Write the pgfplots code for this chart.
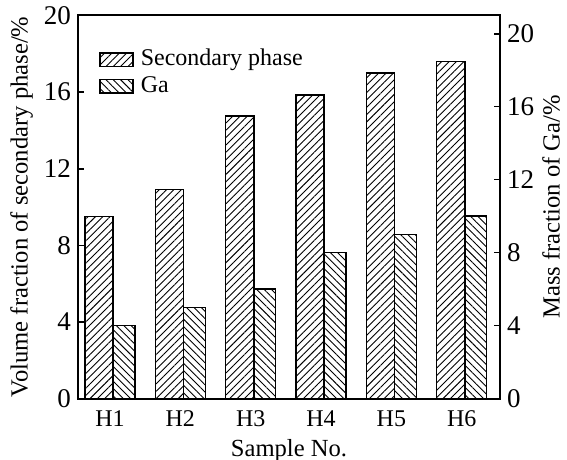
\documentclass[border=0pt]{standalone}
\usepackage{pgfplots}
\pgfplotsset{compat=1.18}
\usepackage{fontspec}
\setmainfont{Liberation Serif}
\usetikzlibrary{patterns.meta}

\tikzset{
  secfill/.style={pattern={Lines[angle=45,distance=2.6pt,line width=0.45pt]}},
  gafill/.style={pattern={Lines[angle=-45,distance=2.6pt,line width=0.45pt]}},
}

\pgfplotsset{
  common/.style={
    width=211pt, height=191.5pt, scale only axis,
    xmin=-0.5, xmax=5.5, ymin=0,
    ybar,
    axis line style={line width=1pt},
    major tick length=3pt,
    tick align=inside,
    ytick={0,4,...,20},
    ytick style={line width=0.8pt, black},
    /pgf/number format/assume math mode=true,
    xticklabel style={font=\fontsize{12}{14}\selectfont},
    yticklabel style={font=\fontsize{13.5}{16}\selectfont},
    label style={font=\fontsize{12.3}{14}\selectfont, inner sep=0pt},
  },
  barlegend/.style={
    legend image code/.code={
      \draw[##1, line width=0.7pt] (0pt,-3.3pt) rectangle (16.5pt,3.3pt);
    }
  },
}

\begin{document}
\begin{tikzpicture}
% volume fraction of the secondary phase (left scale)
\begin{axis}[common,
  ymax=20,
  ytick pos=left,
  xtick pos=bottom,
  xtick={-0.045,0.955,1.955,2.955,3.955,4.955},
  xticklabels={H1,H2,H3,H4,H5,H6},
  x tick style={draw=none},
  xticklabel style={yshift=-2.7pt},
  xlabel={Sample No.},
  xlabel style={at={(axis description cs:0.5,-0.106)}, anchor=north},
  ylabel={Volume fraction of secondary phase/\%},
  ylabel style={at={(axis description cs:-0.106,0.5)}, anchor=south},
  barlegend,
  legend style={draw=none, fill=none, inner sep=0pt,
    at={(0.0498,0.917)}, anchor=north west,
    font=\fontsize{12}{14}\selectfont, row sep=1.35pt, column sep=3.5pt,
    nodes={inner sep=0pt, text height=9pt, text depth=3pt}},
  legend cell align=left,
]
\addplot[draw=black, line width=0.7pt, secfill, bar width=0.4, bar shift=-0.2]
  coordinates {(0,9.5) (1,10.9) (2,14.75) (3,15.85) (4,17.0) (5,17.6)};
\addlegendentry{Secondary phase}
\addlegendimage{draw=black, line width=0.7pt, gafill}
\addlegendentry{Ga}
\coordinate (sw) at (rel axis cs:0,0);
\coordinate (ne) at (rel axis cs:1,1);
\end{axis}
% mass fraction of Ga (right scale)
\begin{axis}[common,
  ymax=21,
  axis y line*=right,
  axis x line=none,
  ylabel={Mass fraction of Ga/\%},
  ylabel style={at={(axis description cs:1.099,0.5)}, anchor=north},
]
\addplot[draw=black, line width=0.7pt, gafill, bar width=0.31, bar shift=0.155]
  coordinates {(0,4) (1,5) (2,6) (3,8) (4,9) (5,10)};
\end{axis}
\pgfresetboundingbox
\path[use as bounding box] ([shift={(-39pt,-30.35pt)}]sw) rectangle ([shift={(33.5pt,7.75pt)}]ne);
\end{tikzpicture}
\end{document}
